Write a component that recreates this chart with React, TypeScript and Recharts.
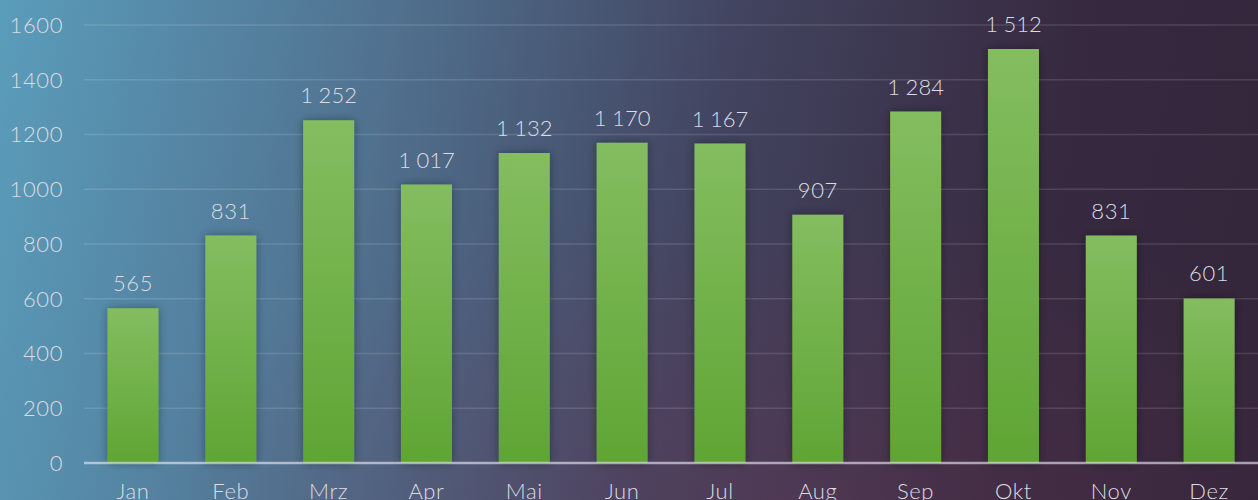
import { BarChart, Bar, XAxis, YAxis, CartesianGrid, LabelList, ReferenceLine } from "recharts";

const months = ["Jan", "Feb", "Mrz", "Apr", "Mai", "Jun", "Jul", "Aug", "Sep", "Okt", "Nov", "Dez"];
const values = [565, 831, 1252, 1017, 1132, 1170, 1167, 907, 1284, 1512, 831, 601];
const yTicks = [0, 200, 400, 600, 800, 1000, 1200, 1400, 1600];

const data = months.map((m, i) => ({ month: m, value: values[i] }));

const fmt = (v: number) => String(v).replace(/\B(?=(\d{3})+(?!\d))/g, "\u202f");

const font = "Lato, 'Noto Sans', sans-serif";
const textColor = "#dcdce2";
const textStyle = { fill: textColor, fontSize: 22, fontFamily: font, fontWeight: 300, letterSpacing: 0.6 };

export default function App() {
  return (
    <div
      style={{
        position: "absolute",
        left: 0,
        top: 0,
        width: 1258,
        height: 500,
        overflow: "hidden",
        background:
          "radial-gradient(ellipse 50% 60% at 62% 100%, rgba(110,55,85,0.35), rgba(110,55,85,0) 100%), linear-gradient(100deg, #5a9dbb 0%, #50708e 30%, #424460 55%, #372a40 80%, #33253a 100%)",
      }}
    >
      <BarChart
        width={1258}
        height={500}
        data={data}
        margin={{ top: 25, right: 0, bottom: 0, left: 0 }}
        barCategoryGap="24%"
      >
        <defs>
          <linearGradient id="barFill" x1="0" y1="0" x2="0" y2="1">
            <stop offset="0%" stopColor="#84bd60" />
            <stop offset="100%" stopColor="#5fa534" />
          </linearGradient>
          <filter id="barShadow" x="-30%" y="-10%" width="160%" height="120%">
            <feDropShadow dx="0" dy="0" stdDeviation="5" floodColor="#000" floodOpacity="0.35" />
          </filter>
        </defs>
        <CartesianGrid vertical={false} stroke="rgba(255,255,255,0.13)" strokeWidth={1.5} />
        <XAxis
          dataKey="month"
          height={37}
          tickLine={false}
          axisLine={false}
          tickSize={0}
          tickMargin={20}
          interval={0}
          tick={textStyle}
        />
        <YAxis
          width={84}
          domain={[0, 1600]}
          ticks={yTicks}
          tickLine={false}
          axisLine={false}
          tickSize={0}
          tickMargin={21}
          tick={textStyle}
        />
        <Bar dataKey="value" fill="url(#barFill)" filter="url(#barShadow)" isAnimationActive={false}>
          <LabelList
            dataKey="value"
            position="top"
            offset={17}
            formatter={(v: any) => fmt(Number(v))}
            style={textStyle}
          />
        </Bar>
        <ReferenceLine y={0} stroke="rgba(230,230,240,0.6)" strokeWidth={2.5} />
      </BarChart>
    </div>
  );
}
